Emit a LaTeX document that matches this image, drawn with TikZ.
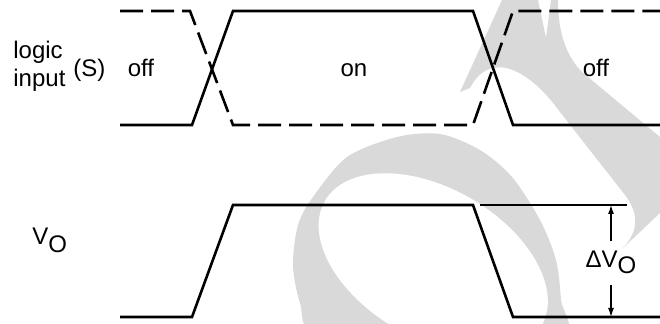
\documentclass[tikz,border=0pt]{standalone}
\usepackage{fontspec}
\setmainfont{Liberation Sans}
\usetikzlibrary{arrows.meta}

\begin{document}
\begin{tikzpicture}[x=0.5pt, y=-0.5pt,
		trace/.style={line width=1.3pt},
		dashtrace/.style={trace, dash pattern=on 11.5pt off 4pt},
		dimline/.style={line width=0.6pt},
		dimarrow/.style={line width=0.6pt, -{Latex[length=4.5pt,width=3pt]}},
		lbl/.style={font=\fontsize{12}{14}\selectfont, inner sep=0pt},
		wmark/.style={black!15}]
			%%%%% START %%%%%
			
			\useasboundingbox (0, 0) rectangle (660, 324);
			
			\begin{scope}
				\clip (0, 0) rectangle (660, 324);
				\fill[wmark] plot[smooth cycle] coordinates {(293, 265) (298, 225) (313, 197) (347, 157) (397, 137)
					(440, 134) (480, 150) (512, 177) (540, 220) (556, 260) (561, 300) (562, 340) (440, 380) (318, 340) (300, 303)};
				\fill[white, rotate around={-30:(430, 265)}] (432, 262) ellipse [x radius=62.5pt, y radius=37.5pt];
				\fill[wmark] (502, 0) -- (538, 0) -- (546, 38) -- (551, 0) -- (558, 0)
					.. controls (558, 30) and (565, 55) .. (582, 72) -- (660, 137) -- (660, 213) -- (623, 248)
					.. controls (640, 230) and (638, 212) .. (625, 195) -- (560, 112)
					.. controls (528, 68) and (490, 50) .. (470, 88) -- (460, 92) -- cycle;
			\end{scope}
			
			\draw[trace] (120, 125) -- (192, 125) -- (233, 11) -- (473, 11) -- (513, 125) -- (660, 125);
			\draw[dashtrace] (120, 11) -- (190, 11) -- (233, 125) -- (473, 125) -- (513, 11) -- (660, 11);
			\draw[trace] (120, 317) -- (192, 317) -- (233, 205) -- (473, 205) -- (513, 317) -- (660, 317);
			
			\node[lbl, anchor=base west] (logic) at (13, 59) {logic};
			\node[lbl, anchor=base west] (input) at (13, 87) {input};
			\node[lbl, anchor=base west] (sel) at (73, 77) {(S)};
			\node[lbl, anchor=base] (offA) at (141, 77) {off};
			\node[lbl, anchor=base] (on) at (354, 77) {on};
			\node[lbl, anchor=base] (offB) at (596, 77) {off};
			
			\node[lbl, anchor=base west] (vo) at (32, 245) {V\raisebox{-4pt}{O}};
			
			\coordinate (refL) at (480, 205);
			\coordinate (refR) at (627, 205);
			\coordinate (dvtop) at (611, 205);
			\coordinate (dvbot) at (611, 317);
			\draw[dimline] (refL) -- (refR);
			\node[lbl, anchor=base, inner ysep=5pt] (dv) at (611, 268) {ΔV\raisebox{-3pt}{O}};
			\draw[dimarrow] (dv.north) -- (dvtop);
			\draw[dimarrow] (dv.south) -- (dvbot);
			
			%%%%% END %%%%%
\end{tikzpicture}
\end{document}
